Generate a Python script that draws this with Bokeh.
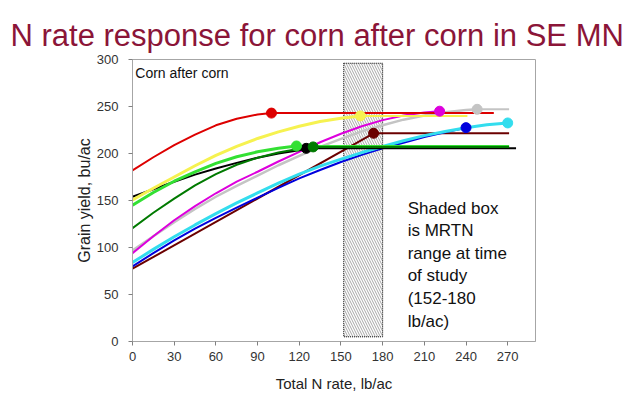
from bokeh.plotting import figure
from bokeh.models import Range1d, Label, FixedTicker
from bokeh.embed import file_html
from bokeh.resources import INLINE

# ---------------- data ----------------
n_grid = [0, 15, 30, 45, 60, 75, 90, 105, 120, 135, 150, 165, 180, 195, 210, 225, 240, 255, 270]

red_yield     = [182, 196, 209, 220, 230, 237, 241.5]
yellow_yield  = [150.5, 163, 175, 187, 198, 207.5, 216, 223, 229, 234, 237.5]
black_yield   = [154, 162, 170, 177.5, 184, 190, 195.5, 200, 203.5]
lime_yield    = [145, 158.5, 170.5, 180.5, 189.5, 196.5, 201.8, 205.5]
dkgreen_yield = [120.6, 137, 152, 166, 178, 188, 195.5, 201, 205]
magenta_yield = [94, 112, 129, 144, 157.7, 170, 180.6, 191.5, 201.8, 212, 221, 229, 235.5, 240.5, 243.5]
gray_yield    = [96.8, 112, 127, 141, 154, 165.5, 176.5, 187.5, 197.5, 207, 215.5, 223.5, 230, 236, 240.5, 244, 246.3]
cyan_yield    = [84, 98, 111.5, 124, 136, 147.5, 158, 168.5, 178, 186.5, 194, 201, 207.5, 213.5, 219, 223.5, 227.5, 230.5]
blue_yield    = [80, 94, 107.5, 120, 131.5, 142.5, 153, 163.5, 173.5, 182.5, 191, 198.5, 205.5, 211.5, 217.5, 222.5]
maroon_yield  = [77.4]

# join (economic plateau) points and plateau ends
series_names  = ["maroon", "blue", "cyan", "gray", "magenta", "black", "lime", "dkgreen", "yellow", "red"]
join_rate     = [173.5, 240, 270, 248, 221, 125, 118, 130, 164, 100]
join_yield    = [221.5, 227.5, 232.5, 247, 245, 205.5, 208, 207, 240, 243]
plateau_end   = [271, 240, 270, 271, 221, 276, 271, 271, 241, 260]

curve_yields = {
    "maroon": maroon_yield, "blue": blue_yield, "cyan": cyan_yield, "gray": gray_yield,
    "magenta": magenta_yield, "black": black_yield, "lime": lime_yield,
    "dkgreen": dkgreen_yield, "yellow": yellow_yield, "red": red_yield,
}

# MRTN range box
mrtn_low, mrtn_high = 152, 180
box_bottom, box_top = 5, 296

x_ticks = [0, 30, 60, 90, 120, 150, 180, 210, 240, 270]
y_ticks = [0, 50, 100, 150, 200, 250, 300]

title_text = "N rate response for corn after corn in SE MN"
note_lines = ["Shaded box", "is MRTN", "range at time", "of study", "(152-180", "lb/ac)"]

# ---------------- styles ----------------
colors = {
    "red": "#DD0000", "yellow": "#F6F250", "black": "#000000", "lime": "#33E033",
    "dkgreen": "#007A00", "magenta": "#DD00DD", "gray": "#C4C4C4", "cyan": "#33DDEE",
    "blue": "#0000DD", "maroon": "#6B0000",
}
widths = {"red": 2, "yellow": 3, "black": 2, "lime": 3, "dkgreen": 2, "magenta": 2,
          "gray": 2.5, "cyan": 3, "blue": 2, "maroon": 2}

FONT = "Liberation Sans"

p = figure(width=632, height=394, x_range=Range1d(0, 290), y_range=Range1d(0, 300),
           output_backend="svg", toolbar_location=None,
           min_border_left=132, min_border_right=97, min_border_top=59, min_border_bottom=52,
           title=title_text)

p.title.text_font = FONT
p.title.text_font_size = "31px"
p.title.text_font_style = "normal"
p.title.text_color = "#8B1538"
p.title.align = "left"
p.title.offset = -122
p.title.standoff = 14

p.background_fill_color = "white"
p.border_fill_color = "white"
p.outline_line_color = "#A6A6A6"
p.xgrid.visible = False
p.ygrid.visible = False

for ax in (p.xaxis[0], p.yaxis[0]):
    ax.axis_line_color = "#A6A6A6"
    ax.major_tick_line_color = "#808080"
    ax.major_tick_out = 4
    ax.major_tick_in = 0
    ax.minor_tick_line_color = None
    ax.major_label_text_font = FONT
    ax.major_label_text_font_size = "13px"
    ax.major_label_text_color = "#333333"
    ax.axis_label_text_font = FONT
    ax.axis_label_text_font_style = "normal"
    ax.axis_label_text_color = "#222222"

p.xaxis.ticker = FixedTicker(ticks=x_ticks)
p.yaxis.ticker = FixedTicker(ticks=y_ticks)
p.xaxis.axis_label = "Total N rate, lb/ac"
p.yaxis.axis_label = "Grain yield, bu/ac"
p.xaxis.axis_label_text_font_size = "15px"
p.yaxis.axis_label_text_font_size = "16px"
p.xaxis.major_label_standoff = 6
p.yaxis.major_label_standoff = 10
p.xaxis.axis_label_standoff = 11
p.yaxis.axis_label_standoff = 1

# MRTN hatched box
p.quad(left=[mrtn_low], right=[mrtn_high], bottom=[box_bottom], top=[box_top],
       fill_color="white", line_color="black", line_dash="1 1", line_width=1,
       hatch_pattern="\\", hatch_color="#808080", hatch_scale=5, hatch_weight=0.7)

# curves and plateaus
for i, name in enumerate(series_names):
    ys = curve_yields[name]
    xs = n_grid[:len(ys)] + [join_rate[i]]
    ys2 = ys + [join_yield[i]]
    p.line(xs, ys2, line_color=colors[name], line_width=widths[name])
    if plateau_end[i] > join_rate[i]:
        p.line([join_rate[i], plateau_end[i]], [join_yield[i], join_yield[i]],
               line_color=colors[name], line_width=2)

for i, name in enumerate(series_names):
    p.scatter([join_rate[i]], [join_yield[i]], size=10, marker="circle",
              fill_color=colors[name], line_color=colors[name])

# texts
p.add_layout(Label(x=2, y=294, text="Corn after corn", text_font=FONT,
                   text_font_size="14px", text_color="#111111", text_baseline="top"))

for k, line in enumerate(note_lines):
    p.add_layout(Label(x=198, y=142, y_offset=-22.6 * k, text=line, text_font=FONT,
                       text_font_size="17px", text_color="#111111", text_baseline="middle"))

open("out.html", "w").write(file_html(p, INLINE))
